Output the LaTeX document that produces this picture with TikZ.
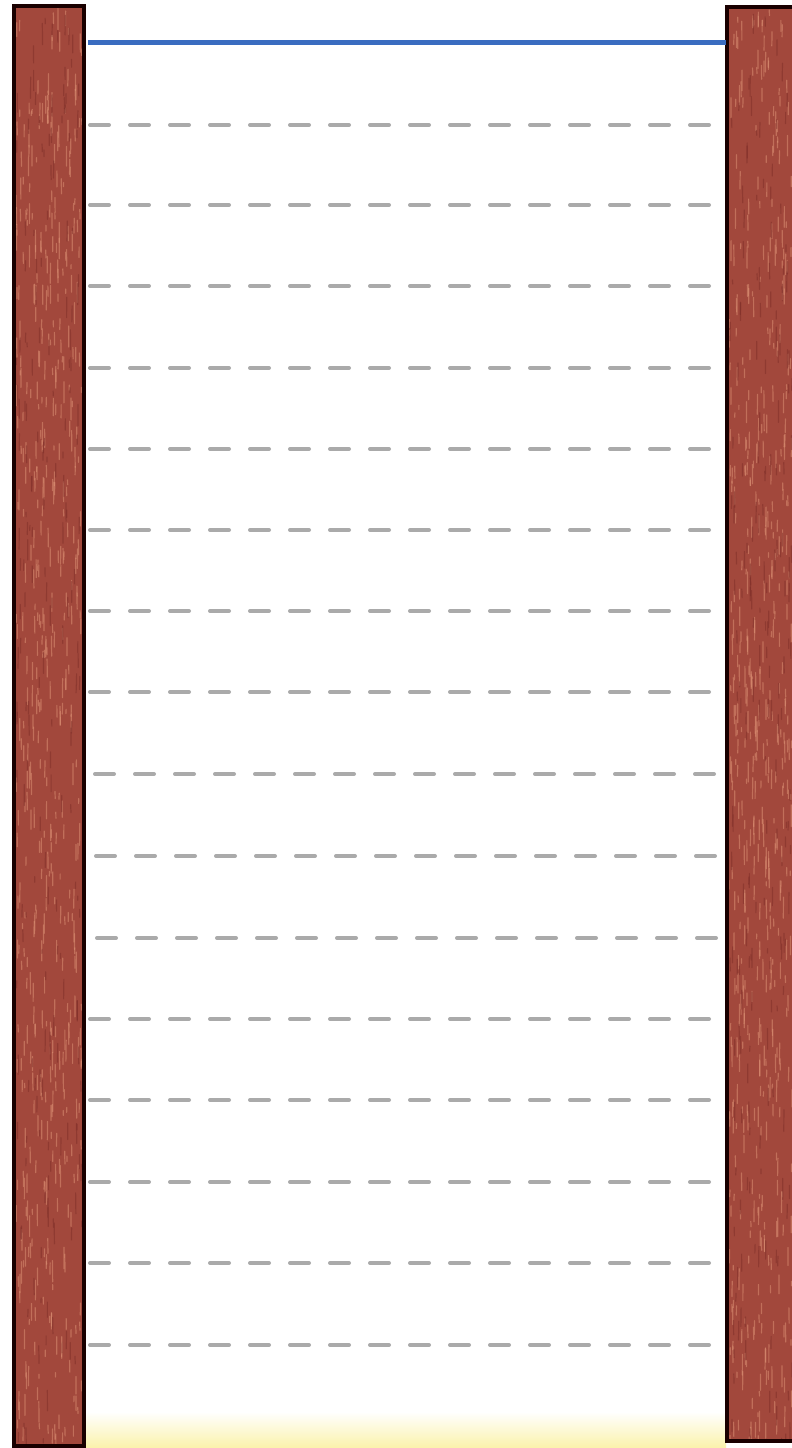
\documentclass[tikz,border=0pt]{standalone}
\usetikzlibrary{calc}
\definecolor{postbrown}{RGB}{162,72,60}
\definecolor{postlight}{RGB}{224,150,120}
\definecolor{postdark}{RGB}{125,45,40}
\definecolor{waterblue}{RGB}{58,108,192}
\definecolor{dashgray}{RGB}{170,170,170}
\definecolor{sandyellow}{RGB}{250,240,150}
\tikzset{
  post/.style={fill=postbrown, draw=black!90!red, line width=4pt},
  grain/.style={line width=1.2pt, opacity=0.5, line cap=round},
  surface/.style={draw=waterblue, line width=5pt},
  levelline/.style={draw=dashgray, line width=4pt, line cap=round, dash pattern=on 19pt off 21pt},
}
\begin{document}
\begin{tikzpicture}[x=1pt,y=-1pt]
\useasboundingbox (0,0) rectangle (792,1448);
\fill[white] (0,0) rectangle (792,1448);
% sandy ground glimpse at the bottom
\shade[top color=white, bottom color=sandyellow, opacity=0.8] (86,1412) rectangle (726,1448);
% posts
\path[post] (14,6) rectangle (84,1446);
\path[post] (727,7) rectangle (796,1441);
\pgfmathsetseed{7}
\begin{scope}
\clip (16,8) rectangle (82,1444);
\foreach \i in {1,...,520}{
  \pgfmathsetmacro{\xx}{16+66*rnd}
  \pgfmathsetmacro{\yy}{8+1436*rnd}
  \pgfmathsetmacro{\ll}{4+18*rnd}
  \draw[grain, postlight] (\xx,\yy) -- ++(0.6*rnd-0.3,\ll);
}
\foreach \i in {1,...,200}{
  \pgfmathsetmacro{\xx}{16+66*rnd}
  \pgfmathsetmacro{\yy}{8+1436*rnd}
  \pgfmathsetmacro{\ll}{4+18*rnd}
  \draw[grain, postdark] (\xx,\yy) -- ++(0.6*rnd-0.3,\ll);
}
\end{scope}
\begin{scope}
\clip (729,9) rectangle (792,1439);
\foreach \i in {1,...,520}{
  \pgfmathsetmacro{\xx}{729+63*rnd}
  \pgfmathsetmacro{\yy}{9+1430*rnd}
  \pgfmathsetmacro{\ll}{4+18*rnd}
  \draw[grain, postlight] (\xx,\yy) -- ++(0.6*rnd-0.3,\ll);
}
\foreach \i in {1,...,200}{
  \pgfmathsetmacro{\xx}{729+63*rnd}
  \pgfmathsetmacro{\yy}{9+1430*rnd}
  \pgfmathsetmacro{\ll}{4+18*rnd}
  \draw[grain, postdark] (\xx,\yy) -- ++(0.6*rnd-0.3,\ll);
}
\end{scope}
\path[draw=black!90!red, line width=4pt] (14,6) rectangle (84,1446);
\path[draw=black!90!red, line width=4pt] (796,7) -- (727,7) -- (727,1441) -- (796,1441);
% water surface
\coordinate (sL) at (88,42);
\coordinate (sR) at (726,42);
\draw[surface] (sL) -- (sR);
% level marks
\foreach \y/\a/\b in {125/90/712, 205/90/712, 286/90/712, 368/90/712, 449/90/712, 530/90/712,
  611/90/712, 692/90/712, 774/95/718, 856/96/718, 938/97/720, 1019/90/712, 1100/90/712,
  1182/90/712, 1263/90/712, 1345/90/712}{
  \draw[levelline] (\a,\y) -- (\b,\y);
}
\end{tikzpicture}
\end{document}
